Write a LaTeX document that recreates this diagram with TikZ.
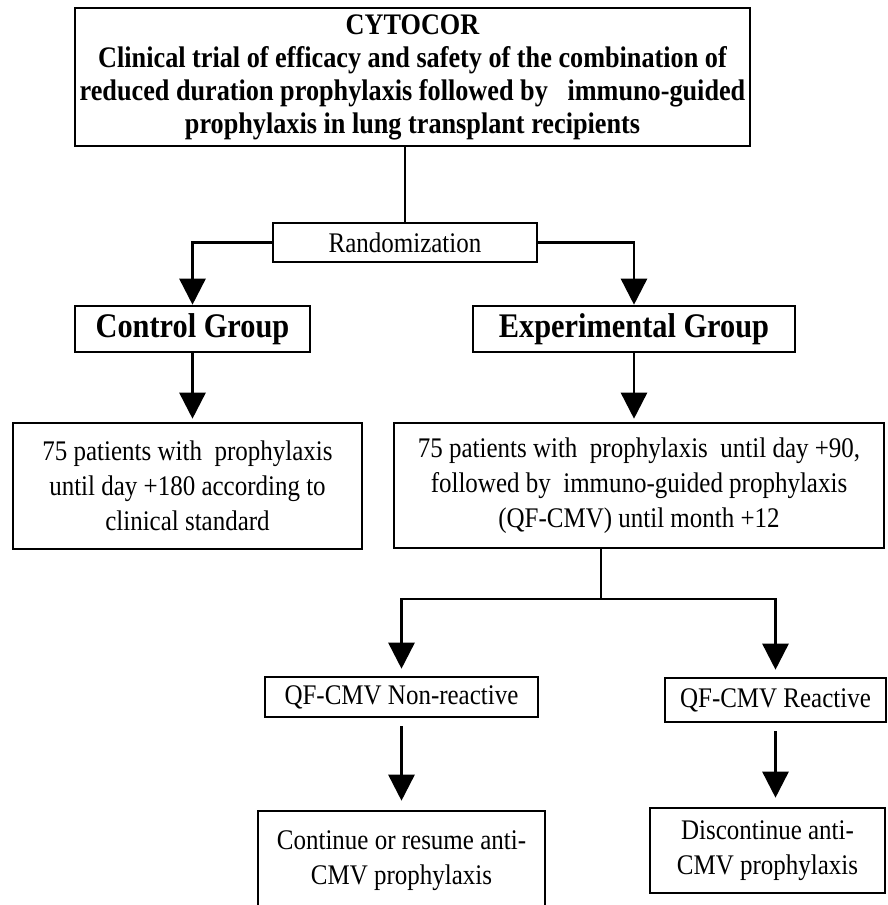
\documentclass[tikz,border=0pt]{standalone}
\usepackage{fontspec}
\setmainfont{Liberation Serif}[FakeStretch=0.88]
\usetikzlibrary{arrows.meta}

\tikzset{
  box/.style={draw, line width=2.6pt, align=center, inner sep=0pt},
  txt/.style={font=\fontsize{28.4}{35}\selectfont},
  head/.style={font=\bfseries\fontsize{29.8}{33}\selectfont},
  grp/.style={font=\bfseries\fontsize{34.5}{40}\selectfont},
  link/.style={line width=2.6pt},
  arr/.style={line width=2.6pt, -{Triangle[length=26pt,width=26pt]}}
}

\begin{document}
\begin{tikzpicture}[x=1pt,y=-1pt]
\useasboundingbox (0,0) rectangle (887,905);
\node[box,head,minimum width=675pt,minimum height=138pt] (trial) at (412.5,77) {CYTOCOR\\Clinical trial of efficacy and safety of the combination of\\reduced duration prophylaxis followed by\ \ \ immuno-guided\\prophylaxis in lung transplant recipients};
\node[box,txt,minimum width=264pt,minimum height=39pt] (rand) at (405,242.5) {Randomization};
\node[box,grp,minimum width=235pt,minimum height=46pt] (ctrl) at (192.5,329) {Control Group};
\node[box,grp,minimum width=322pt,minimum height=46pt] (expt) at (634,329) {Experimental Group};
\node[box,txt,minimum width=349pt,minimum height=126pt] (lpat) at (187.5,486) {75 patients with\ \ prophylaxis\\until day +180 according to\\clinical standard};
\node[box,txt,minimum width=490pt,minimum height=125pt] (rpat) at (639,485.5) {75 patients with\ \ prophylaxis\ \ until day +90,\\followed by\ \ immuno-guided prophylaxis\\(QF-CMV) until month +12};
\node[box,txt,minimum width=273pt,minimum height=40pt] (qfneg) at (401.5,697) {QF-CMV Non-reactive};
\node[box,txt,minimum width=221pt,minimum height=44pt] (qfpos) at (775.5,700) {QF-CMV Reactive};
\node[box,txt,minimum width=287pt,minimum height=99pt] (cont) at (401.5,860.5) {Continue or resume anti-\\CMV prophylaxis};
\node[box,txt,minimum width=235pt,minimum height=85pt] (stop) at (767.5,850.5) {Discontinue anti-\\CMV prophylaxis};
\coordinate (split) at (601,599);
\draw[link] (rand.north) -- (rand.north |- trial.south);
\draw[arr] (rand.west) -| (ctrl.north);
\draw[arr] (rand.east) -| (expt.north);
\draw[arr,shorten >=3pt] (ctrl.south) -- (ctrl.south |- lpat.north);
\draw[arr,shorten >=3pt] (expt.south) -- (expt.south |- rpat.north);
\draw[link] (split |- rpat.south) -- (split);
\draw[arr,shorten >=7pt] (split) -| (qfneg.north);
\draw[arr,shorten >=7pt] (split) -| (qfpos.north);
\draw[arr,shorten <=8pt,shorten >=9pt] (qfneg.south) -- (qfneg.south |- cont.north);
\draw[arr,shorten <=8pt,shorten >=9pt] (qfpos.south) -- (qfpos.south |- stop.north);
\end{tikzpicture}
\end{document}
